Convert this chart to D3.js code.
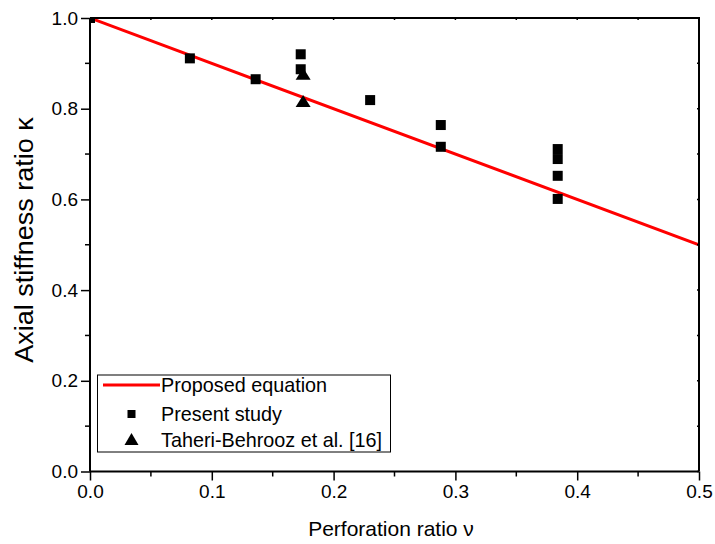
<!DOCTYPE html>
<html>
<head>
<meta charset="utf-8">
<script src="https://cdn.jsdelivr.net/npm/d3@7"></script>
<style>
  html, body { margin: 0; padding: 0; background: #fff; }
  svg { display: block; font-family: "Liberation Sans", Arial, sans-serif; }
</style>
</head>
<body>
<svg id="chart" width="715" height="544"></svg>
<script>
// Perforation ratio (x) vs axial stiffness ratio (y)
const presentNu    = [0.000, 0.082, 0.136, 0.173, 0.173, 0.230, 0.288, 0.288, 0.384, 0.384, 0.384, 0.384];
const presentKappa = [1.000, 0.911, 0.865, 0.920, 0.887, 0.819, 0.764, 0.716, 0.711, 0.689, 0.652, 0.601];
const taheriNu     = [0.175, 0.175];
const taheriKappa  = [0.877, 0.817];
// Proposed equation: kappa = 1 - nu
const equationNu   = [0.0, 0.5];
const equationKappa = equationNu.map(v => 1 - v);

const xTicks = [0.0, 0.1, 0.2, 0.3, 0.4, 0.5];
const yTicks = [0.0, 0.2, 0.4, 0.6, 0.8, 1.0];
const xMinor = d3.range(0, 0.5001, 0.05);
const yMinor = d3.range(0, 1.0001, 0.1);

const legendLabels = ["Proposed equation", "Present study", "Taheri-Behrooz et al. [16]"];

const svg = d3.select("#chart");
const pLeft = 90, pRight = 699, pTop = 18, pBottom = 471.5;

const x = d3.scaleLinear().domain([0, 0.5]).range([pLeft, pRight]);
const y = d3.scaleLinear().domain([0, 1.0]).range([pBottom, pTop]);

svg.append("defs").append("clipPath").attr("id", "plotClip")
  .append("rect").attr("x", pLeft).attr("y", pTop)
  .attr("width", pRight - pLeft).attr("height", pBottom - pTop);

const plot = svg.append("g").attr("clip-path", "url(#plotClip)");

// equation line
plot.append("path")
  .datum(equationNu.map((v, i) => [v, equationKappa[i]]))
  .attr("d", d3.line().x(d => x(d[0])).y(d => y(d[1])))
  .attr("fill", "none").attr("stroke", "#ff0000").attr("stroke-width", 3);

// present study squares
const sq = 10;
plot.selectAll("rect.present")
  .data(presentNu.map((v, i) => [v, presentKappa[i]]))
  .join("rect").attr("class", "present")
  .attr("x", d => x(d[0]) - sq / 2).attr("y", d => y(d[1]) - sq / 2)
  .attr("width", sq).attr("height", sq).attr("fill", "#000");

// reference triangles
const triW = 15, triH = 12;
const triPath = (cx, cy, w, h) =>
  `M${cx},${cy - h / 2}L${cx + w / 2},${cy + h / 2}L${cx - w / 2},${cy + h / 2}Z`;
plot.selectAll("path.taheri")
  .data(taheriNu.map((v, i) => [v, taheriKappa[i]]))
  .join("path").attr("class", "taheri")
  .attr("d", d => triPath(x(d[0]), y(d[1]), triW, triH))
  .attr("fill", "#000");

// axes
const axisG = svg.append("g");
const xAxis = d3.axisBottom(x).tickValues(xTicks).tickFormat(d3.format(".1f")).tickSize(9).tickPadding(4);
const yAxis = d3.axisLeft(y).tickValues(yTicks).tickFormat(d3.format(".1f")).tickSize(9).tickPadding(3);

const gx = axisG.append("g").attr("transform", `translate(0,${pBottom})`).call(xAxis);
const gy = axisG.append("g").attr("transform", `translate(${pLeft},0)`).call(yAxis);
[gx, gy].forEach(g => {
  g.select(".domain").attr("stroke-width", 2).attr("stroke", "#000");
  g.selectAll(".tick line").attr("stroke-width", 1.5).attr("stroke", "#000");
  g.selectAll(".tick text").attr("font-size", 19).attr("fill", "#000")
    .attr("font-family", "'Liberation Sans', Arial, sans-serif");
});
gx.select(".domain").attr("d", `M${pLeft},0H${pRight}`);
gy.select(".domain").attr("d", `M0,${pBottom}V${pTop}`);

// minor ticks on left and bottom
axisG.selectAll("line.xminor").data(xMinor.filter(v => !xTicks.some(t => Math.abs(t - v) < 1e-6)))
  .join("line").attr("x1", d => x(d)).attr("x2", d => x(d))
  .attr("y1", pBottom).attr("y2", pBottom + 5).attr("stroke", "#000").attr("stroke-width", 1.5);
axisG.selectAll("line.yminor").data(yMinor.filter(v => !yTicks.some(t => Math.abs(t - v) < 1e-6)))
  .join("line").attr("x1", pLeft - 5).attr("x2", pLeft)
  .attr("y1", d => y(d)).attr("y2", d => y(d)).attr("stroke", "#000").attr("stroke-width", 1.5);

// top and right frame with small ticks
axisG.append("path").attr("d", `M${pLeft},${pTop}H${pRight}V${pBottom}`)
  .attr("fill", "none").attr("stroke", "#000").attr("stroke-width", 2);
axisG.selectAll("line.topt").data(xMinor).join("line")
  .attr("x1", d => x(d)).attr("x2", d => x(d)).attr("y1", pTop).attr("y2", pTop + 2)
  .attr("stroke", "#000").attr("stroke-width", 1.5);
axisG.selectAll("line.rightt").data(yMinor).join("line")
  .attr("x1", pRight - 2).attr("x2", pRight).attr("y1", d => y(d)).attr("y2", d => y(d))
  .attr("stroke", "#000").attr("stroke-width", 1.5);

// axis titles
svg.append("text").attr("x", 391).attr("y", 536)
  .attr("text-anchor", "middle").attr("font-size", 21).attr("fill", "#000")
  .text("Perforation ratio ν");
svg.append("text")
  .attr("transform", `translate(33,240) rotate(-90) scale(1.08,1)`)
  .attr("text-anchor", "middle").attr("font-size", 25).attr("fill", "#000")
  .text("Axial stiffness ratio κ");

// legend
const lg = svg.append("g");
lg.append("rect").attr("x", 97.5).attr("y", 375).attr("width", 293).attr("height", 77)
  .attr("fill", "#fff").attr("stroke", "#000").attr("stroke-width", 1);
const rowY = [385, 414, 440];
lg.append("line").attr("x1", 103).attr("x2", 160).attr("y1", rowY[0]).attr("y2", rowY[0])
  .attr("stroke", "#ff0000").attr("stroke-width", 3);
lg.append("rect").attr("x", 131.5 - 4).attr("y", rowY[1] - 4).attr("width", 8).attr("height", 8).attr("fill", "#000");
lg.append("path").attr("d", triPath(131.5, rowY[2] - 1, 14, 12)).attr("fill", "#000");
lg.selectAll("text.lab").data(legendLabels).join("text").attr("class", "lab")
  .attr("x", 161).attr("y", (d, i) => rowY[i] + 7)
  .attr("font-size", 19.8).attr("fill", "#000").text(d => d);
</script>
</body>
</html>
